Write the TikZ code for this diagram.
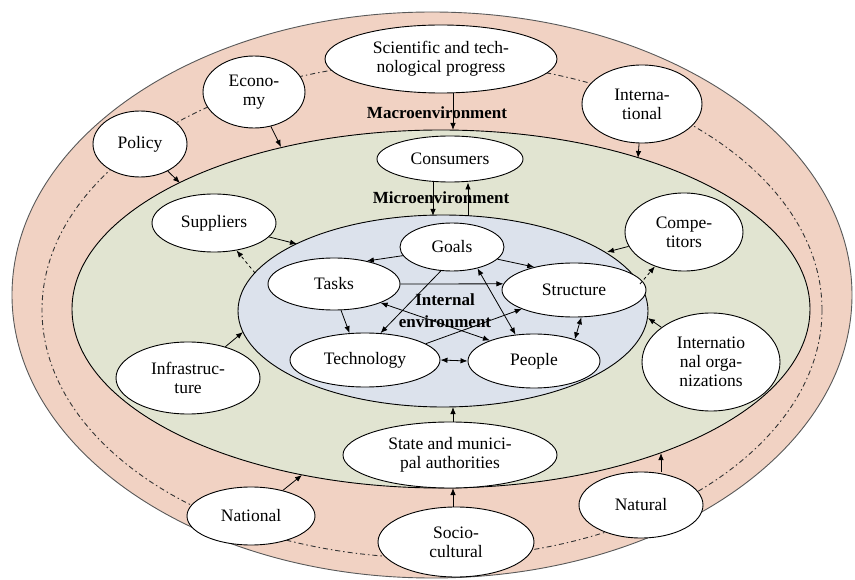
\documentclass[tikz,border=0pt]{standalone}
\usepackage{fontspec}
\setmainfont{Liberation Serif}
\usetikzlibrary{shapes.geometric,arrows.meta}
\definecolor{ringpink}{RGB}{241,210,195}
\definecolor{microgreen}{RGB}{225,228,209}
\definecolor{innerblue}{RGB}{220,226,236}
\begin{document}
\begin{tikzpicture}[x=1pt,y=-1pt,
  fac/.style={ellipse, draw=black, line width=0.9pt, fill=white, inner sep=0pt, align=center, font=\fontsize{17.5}{19}\selectfont},
  arr/.style={-{Latex[length=7pt,width=5.5pt]}, line width=0.8pt},
  darr/.style={{Latex[length=7pt,width=5.5pt]}-{Latex[length=7pt,width=5.5pt]}, line width=0.8pt},
  lbl/.style={font=\bfseries\fontsize{17}{22}\selectfont, align=center, inner sep=0pt},
  ringline/.style={dash pattern=on 5pt off 3pt on 1.5pt off 3pt, line width=0.9pt, draw=black!80}
]
\useasboundingbox (0,0) rectangle (855,580);
\fill[white] (0,0) rectangle (855,580);
% environments
\draw[fill=ringpink, draw=black!65, line width=0.9pt] (432,295) ellipse [x radius=420pt, y radius=283pt];
\draw[ringline] (432,310) ellipse [x radius=390pt, y radius=248pt];
\draw[fill=microgreen, draw=black, line width=0.9pt] (441,309) ellipse [x radius=369pt, y radius=179pt];
\draw[fill=innerblue, draw=black, line width=0.9pt] (443,311) ellipse [x radius=205pt, y radius=96pt];

% macro factors
\node[fac, minimum width=232pt, minimum height=68pt] (sci) at (441,59) {Scientific and tech-\\nological progress};
\node[fac, minimum width=102pt, minimum height=72pt] (econ) at (254,92) {Econo-\\my};
\node[fac, minimum width=94pt, minimum height=66pt] (pol) at (140,144) {Policy};
\node[fac, minimum width=120pt, minimum height=78pt] (intl) at (642,104) {Interna-\\tional};
\node[fac, minimum width=128pt, minimum height=58pt] (nat) at (251,516) {National};
\node[fac, minimum width=156pt, minimum height=70pt] (socio) at (456,542) {Socio-\\cultural};
\node[fac, minimum width=124pt, minimum height=66pt] (natural) at (641,505) {Natural};

% micro factors
\node[fac, minimum width=146pt, minimum height=46pt] (cons) at (450,159) {Consumers};
\node[fac, minimum width=124pt, minimum height=58pt] (sup) at (214,223) {Suppliers};
\node[fac, minimum width=144pt, minimum height=72pt] (infra) at (188,378) {Infrastruc-\\ture};
\node[fac, minimum width=118pt, minimum height=78pt] (comp) at (684,232) {Compe-\\titors};
\node[fac, minimum width=138pt, minimum height=98pt] (iorg) at (711,362) {Internatio\\nal orga-\\nizations};
\node[fac, minimum width=214pt, minimum height=66pt] (state) at (450,455) {State and munici-\\pal authorities};

% internal factors
\node[fac, minimum width=104pt, minimum height=48pt] (goals) at (452,247) {Goals};
\node[fac, minimum width=132pt, minimum height=52pt] (tasks) at (334,284) {Tasks};
\node[fac, minimum width=144pt, minimum height=54pt] (struct) at (574,290) {Structure};
\node[fac, minimum width=150pt, minimum height=54pt] (tech) at (365,360) {Technology};
\node[fac, minimum width=132pt, minimum height=54pt] (people) at (534,361) {People};

% labels
\node[lbl] (macro) at (437,113) {Macroenvironment};
\node[lbl] (microlbl) at (441,198) {Microenvironment};
\node[lbl] (internal) at (445,311) {Internal\\environment};

% boundary points
\coordinate (mSci) at (453,130);
\coordinate (mEco) at (281,147);
\coordinate (mPol) at (180,183);
\coordinate (mInt) at (638,158);
\coordinate (iCons1) at (433,216);
\coordinate (iCons2) at (468,216);
\coordinate (iSup) at (297,244);
\coordinate (iSup2) at (255,273);
\coordinate (iInf) at (243,332);
\coordinate (iComp) at (607,252);
\coordinate (iComp2) at (640,284);
\coordinate (iOrg) at (648,318);
\coordinate (iState) at (453,407);
\coordinate (mSocio) at (453,488);
\coordinate (mNat) at (302,475);
\coordinate (mNatural) at (661,453);

% macro arrows
\draw[arr] (sci.south -| mSci) -- (mSci);
\draw[arr] (econ) -- (mEco);
\draw[arr] (pol) -- (mPol);
\draw[arr] (intl) -- (mInt);
\draw[arr] (socio.north -| mSocio) -- (mSocio);
\draw[arr] (nat) -- (mNat);
\draw[arr] (natural.north -| mNatural) -- (mNatural);

% micro arrows
\draw[arr] (cons.south -| iCons1) -- (iCons1);
\draw[arr] (iCons2) -- (cons.south -| iCons2);
\draw[arr] (sup) -- (iSup);
\draw[arr, dashed] (iSup2) -- (sup);
\draw[arr] (infra) -- (iInf);
\draw[arr] (comp) -- (iComp);
\draw[arr, dashed] (iComp2) -- (comp);
\draw[arr] (iorg) -- (iOrg);
\draw[arr] (state.north -| iState) -- (iState);

% internal arrows
\draw[arr] (goals.190) -- (tasks.35);
\draw[arr] (goals.-15) -- (struct.150);
\draw[arr] (goals.245) -- (tech.60);
\draw[darr] (goals.-40) -- (people.125);
\draw[arr] (tasks.east) -- (struct.175);
\draw[arr] (tasks.-75) -- (tech.120);
\draw[darr] (tasks.-22) -- (people.155);
\draw[arr] (tech.15) -- (struct.200);
\draw[darr] (tech.east) -- (people.west);
\draw[darr] (struct.-75) -- (people.28);
\end{tikzpicture}
\end{document}
